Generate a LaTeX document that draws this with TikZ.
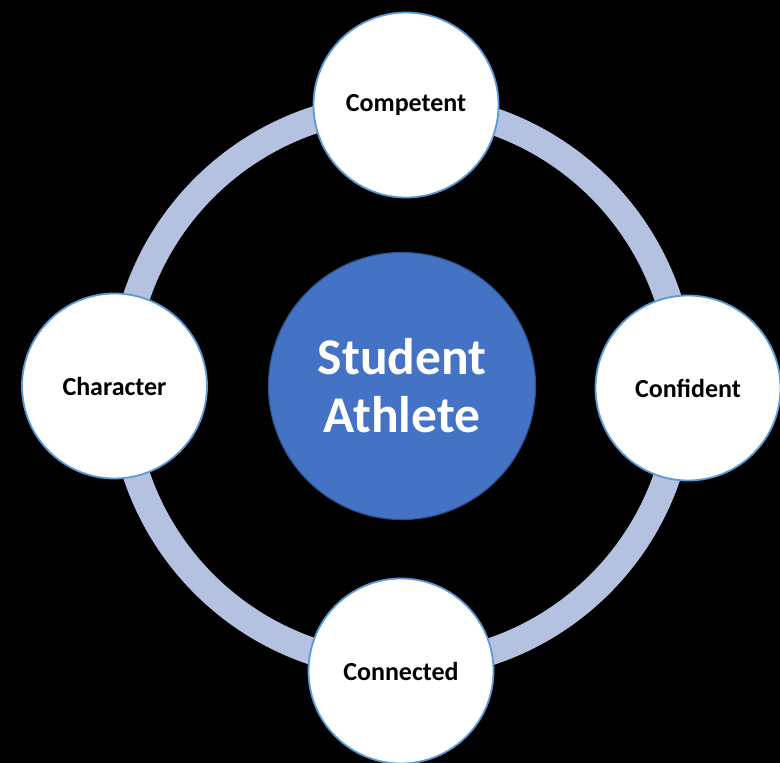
\documentclass[tikz,border=0pt]{standalone}
\usepackage{fontspec}
\setmainfont{Carlito}
\definecolor{ringblue}{HTML}{B4C1E1}
\definecolor{edgeblue}{HTML}{5B9BD5}
\definecolor{hubblue}{HTML}{4472C4}
\definecolor{hubedge}{HTML}{2F528F}
\begin{document}
\begin{tikzpicture}[x=1pt,y=-1pt,line join=round,line cap=round,
	trait/.style={circle,draw=edgeblue,line width=1.8pt,fill=white,minimum size=185pt,inner sep=0pt,font=\bfseries\fontsize{26}{30}\selectfont},
	hub/.style={circle,draw=hubedge,line width=1.2pt,fill=hubblue,minimum size=267pt,inner sep=0pt,text=white,align=center,font=\bfseries\fontsize{51.5}{58}\selectfont},
	ring/.style={draw=ringblue,line width=27pt}]
			\fill[black] (0,0) rectangle (780,763);
			\useasboundingbox (0,0) rectangle (780,763);
			\coordinate (O) at (402,386);
			\draw[ring] (O) circle (280);
			\node[hub] (athlete) at (O) {Student\\Athlete};
			\node[trait] (competent) at (406,105) {Competent};
			\node[trait] (confident) at (688,388) {Confident};
			\node[trait] (connected) at (401,671) {Connected};
			\node[trait] (character) at (114.5,386) {Character};
			\end{tikzpicture}
\end{document}
